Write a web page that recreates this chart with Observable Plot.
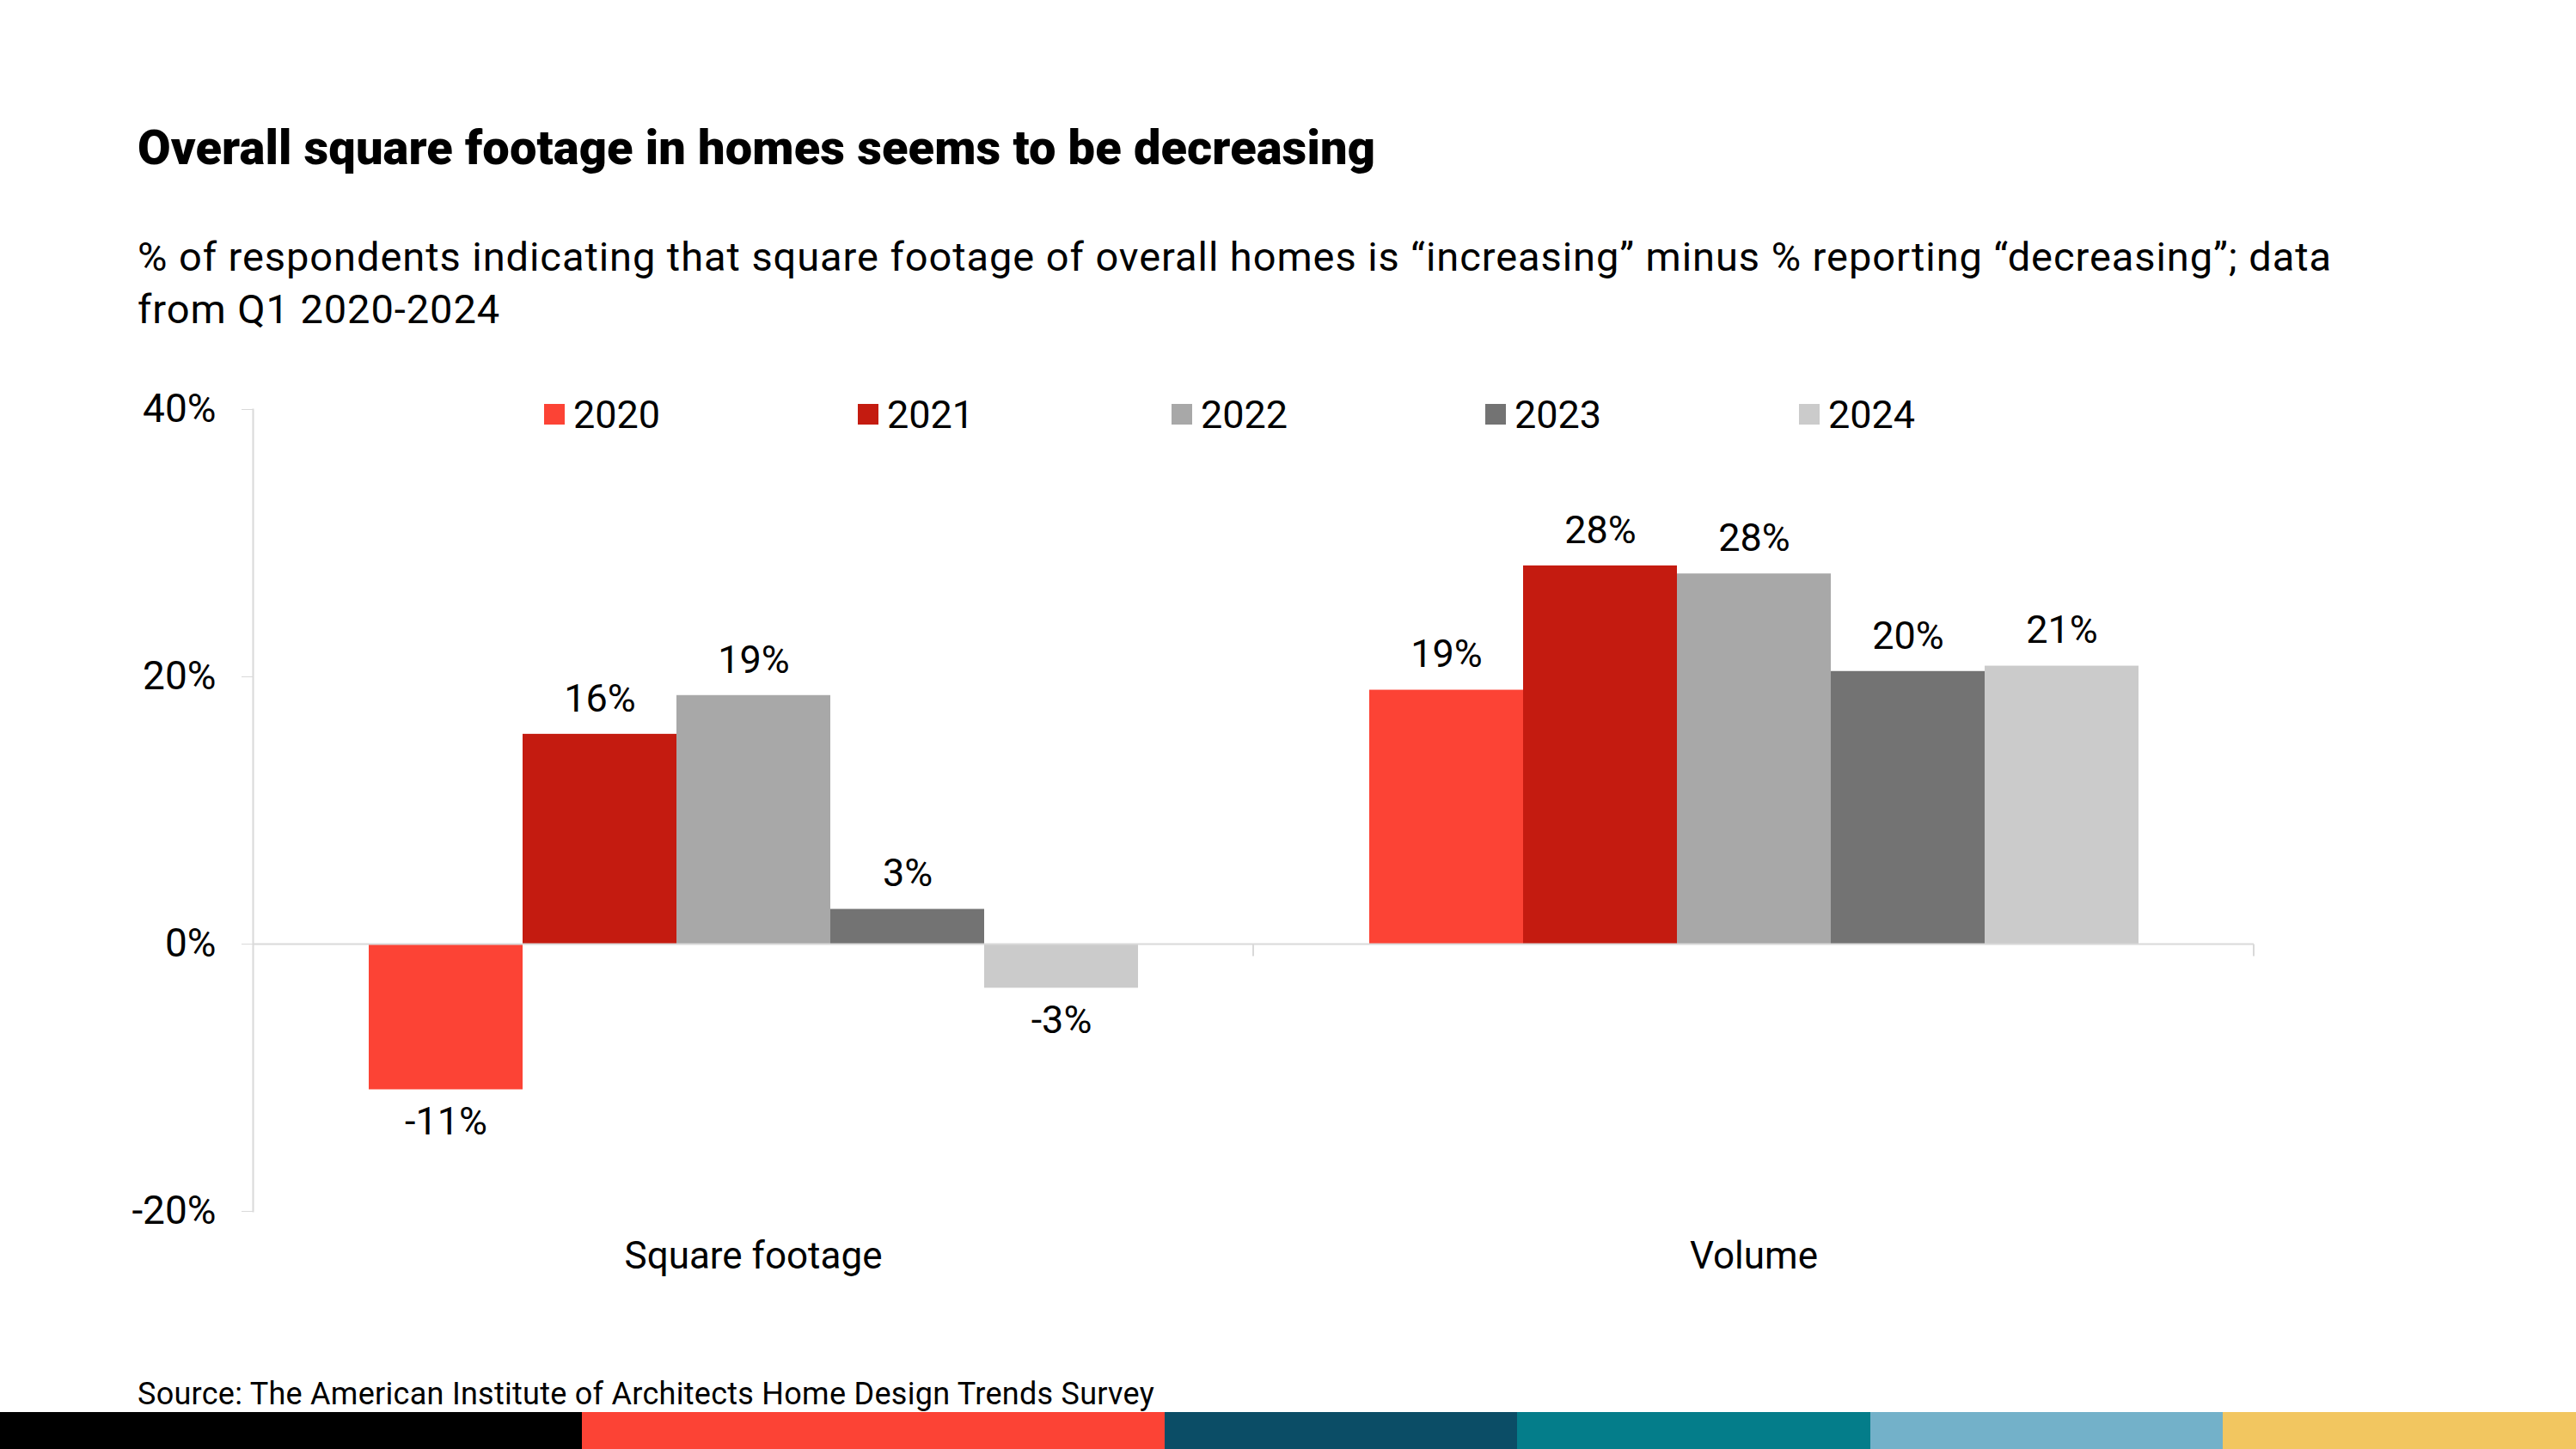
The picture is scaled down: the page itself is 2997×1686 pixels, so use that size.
<!DOCTYPE html>
<html>
<head>
<meta charset="utf-8">
<script src="https://cdn.jsdelivr.net/npm/d3@7"></script>
<script src="https://cdn.jsdelivr.net/npm/@observablehq/plot@0.6"></script>
<style>
  html, body { margin: 0; padding: 0; background: #fff; }
  #page { position: relative; width: 2997px; height: 1686px; overflow: hidden; background: #fff;
          font-family: Roboto, "Liberation Sans", sans-serif; color: #000; }
  .abs { position: absolute; white-space: nowrap; }
  .fit { display: inline-block; }
  #title { left: 160px; top: 144px; font-size: 56px; line-height: 56px; font-weight: 900; }
  #subtitle { left: 160px; top: 268px; font-size: 47px; line-height: 61px; }
  #subtitle .fit { display: block; width: max-content; }
  #legend { left: 633px; top: 457px; display: flex; height: 50px; }
  #legend .item { width: 365px; height: 50px; display: flex; align-items: center; font-size: 45px; line-height: 45px; }
  #legend .sw { width: 24px; height: 24px; margin-right: 10px; flex: none; }
  #chart { position: absolute; left: 0; top: 400px; }
  #source { left: 160px; top: 1604px; font-size: 36px; line-height: 36px; }
  #strip { position: absolute; left: 0; top: 1643px; width: 2997px; height: 43px; display: flex; }
</style>
</head>
<body>
<div id="page">
  <div id="title" class="abs"><span class="fit">Overall square footage in homes seems to be decreasing</span></div>
  <div id="subtitle" class="abs">
    <span class="fit" id="sub1">% of respondents indicating that square footage of overall homes is “increasing” minus % reporting “decreasing”; data</span>
    <span class="fit" id="sub2">from Q1 2020-2024</span>
  </div>
  <div id="legend" class="abs"></div>
  <div id="chart"></div>
  <div id="source" class="abs"><span class="fit">Source: The American Institute of Architects Home Design Trends Survey</span></div>
  <div id="strip"></div>
</div>
<script>
// ---- data ----
const categories = ["Square footage", "Volume"];
const years = ["2020", "2021", "2022", "2023", "2024"];
const squareFootage = [-10.9, 15.7, 18.6, 2.6, -3.3];
const volume = [19.0, 28.3, 27.7, 20.4, 20.8];
const yearColors = ["#fc4335", "#c41b10", "#a8a8a8", "#737373", "#cbcbcb"];
const yTicks = [-20, 0, 20, 40];
const stripColors = ["#000000", "#fc4335", "#0b4d66", "#047d8a", "#73b1c9", "#f2c660"];

// ---- table for Plot ----
const seriesByCategory = [squareFootage, volume];
const rows = [];
categories.forEach((c, ci) => years.forEach((y, yi) => rows.push({category: c, year: y, value: seriesByCategory[ci][yi]})));
const fmt = v => `${Math.round(v)}%`;
const axisGray = "#d9d9d9";
const font = 'Roboto, "Liberation Sans", sans-serif';

// ---- legend ----
const legend = document.getElementById("legend");
years.forEach((y, i) => {
  const item = document.createElement("div");
  item.className = "item";
  const sw = document.createElement("span");
  sw.className = "sw";
  sw.style.background = yearColors[i];
  item.appendChild(sw);
  item.appendChild(document.createTextNode(y));
  legend.appendChild(item);
});

// ---- bottom colour strip ----
const stripWeights = [1.65, 1.65, 1, 1, 1, 1];
const strip = document.getElementById("strip");
stripColors.forEach((c, i) => {
  const s = document.createElement("div");
  s.style.background = c;
  s.style.flex = `${stripWeights[i]} 1 0`;
  strip.appendChild(s);
});

// ---- chart ----
function zeroTicks(index, scales, values, dimensions, context, next) {
  const g = next(index, scales, values, dimensions, context);
  const xr = dimensions.width - dimensions.marginRight;
  const y0 = scales.y(0);
  const line = document.createElementNS("http://www.w3.org/2000/svg", "line");
  line.setAttribute("x1", xr); line.setAttribute("x2", xr);
  line.setAttribute("y1", y0); line.setAttribute("y2", y0 + 14);
  line.setAttribute("stroke", axisGray); line.setAttribute("stroke-width", 2);
  g.appendChild(line);
  return g;
}

const chart = Plot.plot({
  width: 2997,
  height: 1100,
  marginTop: 76,
  marginBottom: 91,
  marginLeft: 293,
  marginRight: 375,
  style: {fontFamily: font, fontSize: "45px", color: "#000", background: "transparent", overflow: "visible"},
  fx: {domain: categories, padding: 0, label: null},
  x: {domain: years, paddingInner: 0, paddingOuter: 0.75, axis: null},
  y: {domain: [-20, 40], label: null},
  color: {domain: years, range: yearColors},
  marks: [
    Plot.frame({anchor: "left", facetAnchor: "left", stroke: axisGray, strokeWidth: 2}),
    Plot.barY(rows, {fx: "category", x: "year", y: "value", fill: "year"}),
    Plot.ruleY([0], {stroke: axisGray, strokeWidth: 2, render: zeroTicks}),
    Plot.axisY({ticks: yTicks, tickFormat: d => `${d}%`, tickSize: 13, tickPadding: 30,
                stroke: axisGray, fill: "#000", fontSize: 46, label: null}),
    Plot.axisFx({anchor: "bottom", tickSize: 0, tickPadding: 35, fontSize: 44, fill: "#000", label: null}),
    Plot.text(rows.filter(d => d.value >= 0), {fx: "category", x: "year", y: "value", text: d => fmt(d.value),
                dy: -41, fontSize: 45, fill: "#000"}),
    Plot.text(rows.filter(d => d.value < 0), {fx: "category", x: "year", y: "value", text: d => fmt(d.value),
                dy: 38, fontSize: 45, fill: "#000"})
  ]
});
document.getElementById("chart").appendChild(chart);

// ---- fit text widths to the reference layout ----
function fit(el, target) {
  el.style.letterSpacing = "0px";
  const w = el.getBoundingClientRect().width;
  const ls = (target - w) / el.textContent.length;
  el.style.letterSpacing = ls + "px";
  return ls;
}
function fitAll() {
  fit(document.querySelector("#title .fit"), 1440);
  const ls = fit(document.getElementById("sub1"), 2553);
  document.getElementById("sub2").style.letterSpacing = ls + "px";
  fit(document.querySelector("#source .fit"), 1183);
}
fitAll();
if (document.fonts && document.fonts.ready) document.fonts.ready.then(fitAll);
</script>
</body>
</html>
